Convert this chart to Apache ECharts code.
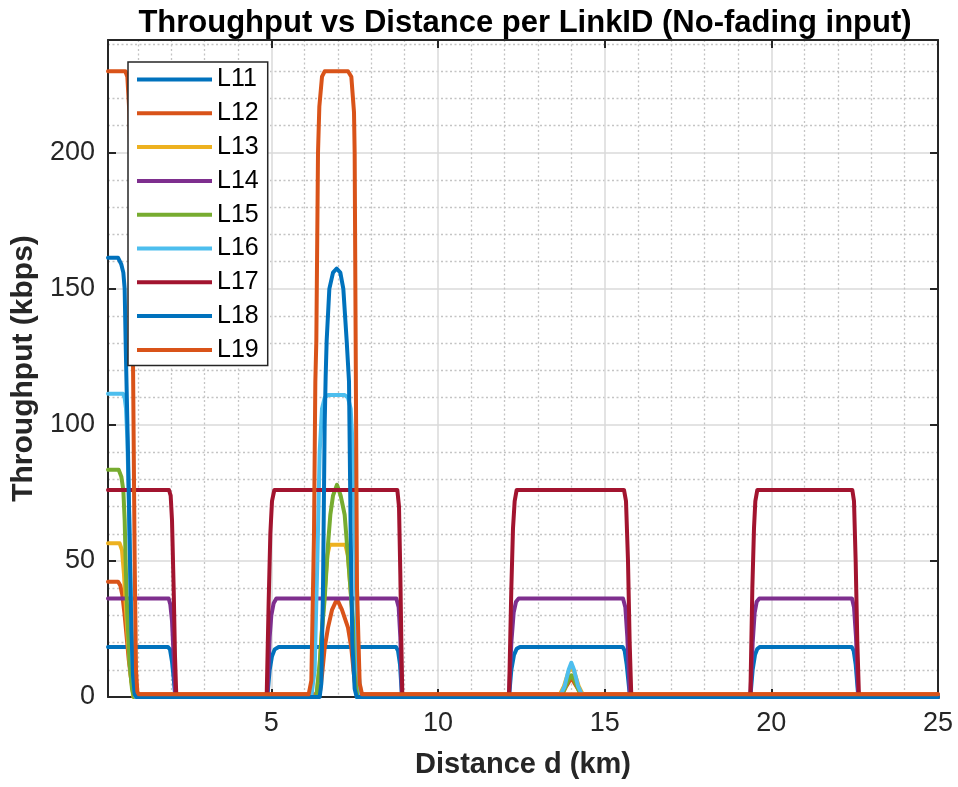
<!DOCTYPE html>
<html>
<head>
<meta charset="utf-8">
<script src="https://cdn.jsdelivr.net/npm/echarts@6/dist/echarts.min.js"></script>
<style>
  html, body { margin: 0; padding: 0; background: #fff; }
  #chart { width: 958px; height: 787px; }
</style>
</head>
<body>
<div id="chart"></div>
<script>
// tick positions
const xMajorTicks = [5, 10, 15, 20, 25];
const xMinorTicks = [1, 2, 3, 4, 6, 7, 8, 9, 11, 12, 13, 14, 16, 17, 18, 19, 21, 22, 23, 24];
const yMajorTicks = [0, 50, 100, 150, 200];
const yMinorTicks = [10, 20, 30, 40, 60, 70, 80, 90, 110, 120, 130, 140, 160, 170, 180, 190, 210, 220, 230, 240];

const linkNames = ['L11', 'L12', 'L13', 'L14', 'L15', 'L16', 'L17', 'L18', 'L19'];
const linkColors = ['#0072BD', '#D95319', '#EDB120', '#7E2F8E', '#77AC30', '#4DBEEE', '#A2142F', '#0072BD', '#D95319'];

// [distance km, throughput kbps]
const L11 = [
  [0.1, 18.4], [1.9, 18.4], [1.96, 17.5], [2.02, 13], [2.07, 7], [2.12, 0],
  [4.88, 0], [4.95, 10], [5.02, 15], [5.1, 17.5], [5.22, 18.4], [8.74, 18.4], [8.8, 17], [8.86, 12], [8.92, 0],
  [12.13, 0], [12.2, 10], [12.28, 15.5], [12.36, 17.7], [12.46, 18.4], [15.54, 18.4], [15.6, 17], [15.66, 12], [15.76, 0],
  [19.37, 0], [19.44, 10], [19.51, 15.5], [19.58, 17.7], [19.66, 18.4], [22.41, 18.4], [22.47, 17], [22.53, 12], [22.61, 0],
  [25, 0]
];
const L12 = [
  [0.1, 42.4], [0.4, 42.4], [0.47, 41], [0.53, 37.5], [0.6, 30], [0.66, 22], [0.72, 14], [0.8, 6], [0.88, 2], [0.95, 1],
  [6.45, 1], [6.52, 8], [6.6, 18], [6.7, 25.5], [6.82, 32], [6.97, 36], [7.12, 32], [7.3, 25.5], [7.4, 18], [7.48, 8], [7.55, 1],
  [13.72, 1], [13.85, 4], [14.0, 7], [14.15, 4], [14.3, 1],
  [25, 1]
];
const L13 = [
  [0.1, 56.5], [0.45, 56.5], [0.52, 54], [0.58, 45], [0.64, 32], [0.7, 20], [0.78, 8], [0.86, 0],
  [6.35, 0], [6.45, 12], [6.55, 30], [6.62, 42], [6.68, 52], [6.75, 56], [7.22, 56], [7.3, 52], [7.36, 42], [7.43, 30], [7.52, 12], [7.6, 0],
  [13.62, 0], [13.78, 4], [13.92, 9.5], [14.0, 10.5], [14.08, 9.5], [14.22, 4], [14.38, 0],
  [25, 0]
];
const L14 = [
  [0.1, 36.2], [1.92, 36.2], [1.97, 34], [2.02, 28], [2.07, 15], [2.12, 0],
  [4.88, 0], [4.95, 22], [5.0, 30], [5.07, 34.5], [5.15, 36.2], [8.75, 36.2], [8.82, 33], [8.87, 22], [8.92, 0],
  [12.13, 0], [12.2, 20], [12.27, 31], [12.34, 35], [12.42, 36.2], [15.55, 36.2], [15.62, 33], [15.68, 22], [15.76, 0],
  [19.37, 0], [19.44, 20], [19.5, 31], [19.56, 35], [19.64, 36.2], [22.42, 36.2], [22.48, 33], [22.54, 22], [22.61, 0],
  [25, 0]
];
const L15 = [
  [0.1, 83.5], [0.42, 83.5], [0.5, 81], [0.56, 76], [0.6, 65], [0.64, 45], [0.68, 30], [0.75, 12], [0.82, 3], [0.88, 0],
  [6.35, 0], [6.45, 12], [6.52, 25], [6.6, 36], [6.7, 56], [6.77, 67], [6.85, 74], [6.97, 78], [7.08, 74], [7.2, 67], [7.27, 56], [7.4, 36], [7.47, 25], [7.53, 12], [7.6, 0],
  [13.7, 0], [13.9, 6], [14.0, 8], [14.1, 6], [14.3, 0],
  [25, 0]
];
const L16 = [
  [0.1, 111.5], [0.55, 111.5], [0.6, 110], [0.64, 106], [0.68, 95], [0.73, 70], [0.78, 40], [0.83, 15], [0.88, 4], [0.93, 0],
  [6.2, 0], [6.3, 10], [6.38, 50], [6.45, 90], [6.52, 106], [6.6, 110], [6.7, 111], [7.2, 111], [7.3, 110], [7.38, 106], [7.45, 90], [7.52, 50], [7.6, 10], [7.7, 0],
  [13.65, 0], [13.8, 4], [13.92, 10], [14.0, 12.6], [14.08, 10], [14.2, 4], [14.35, 0],
  [25, 0]
];
const L17 = [
  [0.1, 76.1], [1.93, 76.1], [1.98, 74], [2.02, 65], [2.07, 40], [2.11, 15], [2.15, 0],
  [4.86, 0], [4.92, 35], [4.97, 60], [5.02, 72], [5.09, 76.1], [8.78, 76.1], [8.83, 70], [8.87, 45], [8.9, 20], [8.93, 0],
  [12.13, 0], [12.2, 40], [12.25, 62], [12.3, 72], [12.36, 76.1], [15.58, 76.1], [15.64, 72], [15.7, 50], [15.75, 20], [15.8, 0],
  [19.37, 0], [19.43, 40], [19.48, 62], [19.52, 72], [19.58, 76.1], [22.43, 76.1], [22.48, 72], [22.53, 50], [22.58, 20], [22.63, 0],
  [25, 0]
];
const L18 = [
  [0.1, 161.5], [0.4, 161.5], [0.5, 159], [0.56, 156], [0.6, 150], [0.63, 130], [0.7, 90], [0.76, 50], [0.8, 25], [0.85, 8], [0.9, 1], [0.95, 0],
  [6.45, 0], [6.5, 5], [6.55, 40], [6.6, 100], [6.63, 118], [6.66, 131], [6.74, 150], [6.85, 156], [6.96, 157.5], [7.07, 156], [7.16, 150], [7.26, 131], [7.33, 116], [7.38, 60], [7.43, 20], [7.5, 3], [7.56, 0],
  [25, 0]
];
const L19 = [
  [0.1, 230], [0.62, 230], [0.68, 228], [0.74, 215], [0.8, 180], [0.85, 124], [0.9, 50], [0.94, 10], [0.98, 2], [1.02, 1],
  [6.12, 1], [6.2, 6], [6.28, 60], [6.32, 116], [6.35, 131], [6.4, 200], [6.44, 217], [6.52, 228], [6.6, 230],
  [7.3, 230], [7.4, 228], [7.48, 215], [7.5, 200], [7.53, 130], [7.57, 40], [7.65, 5], [7.72, 1],
  [25, 1]
];
const linkData = [L11, L12, L13, L14, L15, L16, L17, L18, L19];

const FONT = 'Liberation Sans, Arial, Helvetica, sans-serif';
const AXIS_COLOR = '#262626';

const chart = echarts.init(document.getElementById('chart'), null, { renderer: 'canvas' });

const boxLine = { show: true, onZero: false, lineStyle: { color: AXIS_COLOR, width: 2 } };
const majorTick = (vals) => ({ show: true, inside: true, length: 8, customValues: vals, lineStyle: { color: AXIS_COLOR, width: 2 } });
const majorGrid = { show: true, lineStyle: { color: '#dadada', width: 1.5 } };
const minorGrid = { show: true, lineStyle: { color: '#c4c4c4', width: 1.3, type: [2, 2.5] } };

const option = {
  animation: false,
  backgroundColor: '#fff',
  title: {
    text: 'Throughput vs Distance per LinkID (No-fading input)',
    left: 520,
    top: 3,
    textAlign: 'center',
    textStyle: { fontFamily: FONT, fontSize: 31, fontWeight: 'bold', color: '#000' }
  },
  grid: { left: 108, right: 20, top: 40, bottom: 90, containLabel: false },
  legend: {
    data: linkNames,
    orient: 'vertical',
    left: 128,
    top: 62,
    icon: 'rect',
    itemWidth: 75,
    itemHeight: 4,
    itemGap: 8.8,
    padding: [5, 9, 3, 9],
    backgroundColor: '#fff',
    borderColor: AXIS_COLOR,
    borderWidth: 1.5,
    borderRadius: 0,
    z: 10,
    textStyle: { fontFamily: FONT, fontSize: 25, lineHeight: 25, color: '#000' }
  },
  xAxis: [
    {
      type: 'value', min: 0.1, max: 25, position: 'bottom',
      axisLine: boxLine,
      axisTick: majorTick(xMajorTicks),
      axisLabel: { customValues: xMajorTicks, fontFamily: FONT, fontSize: 27, color: AXIS_COLOR, margin: 13 },
      splitLine: majorGrid,
      name: 'Distance d (km)', nameLocation: 'middle', nameGap: 53,
      nameTextStyle: { fontFamily: FONT, fontSize: 29, fontWeight: 'bold', color: AXIS_COLOR }
    },
    {
      type: 'value', min: 0.1, max: 25, position: 'top',
      axisLine: boxLine,
      axisTick: majorTick(xMajorTicks),
      axisLabel: { show: false },
      splitLine: { show: false }
    },
    {
      type: 'value', min: 0.1, max: 25, position: 'bottom',
      axisLine: { show: false },
      axisTick: { show: false, customValues: xMinorTicks },
      axisLabel: { show: false },
      splitLine: minorGrid
    }
  ],
  yAxis: [
    {
      type: 'value', min: 0, max: 241.5, position: 'left',
      axisLine: boxLine,
      axisTick: majorTick(yMajorTicks),
      axisLabel: { customValues: yMajorTicks, fontFamily: FONT, fontSize: 27, color: AXIS_COLOR, margin: 13 },
      splitLine: majorGrid,
      name: 'Throughput (kbps)', nameLocation: 'middle', nameGap: 58,
      nameTextStyle: { fontFamily: FONT, fontSize: 30, fontWeight: 'bold', color: AXIS_COLOR }
    },
    {
      type: 'value', min: 0, max: 241.5, position: 'right',
      axisLine: boxLine,
      axisTick: majorTick(yMajorTicks),
      axisLabel: { show: false },
      splitLine: { show: false }
    },
    {
      type: 'value', min: 0, max: 241.5, position: 'left',
      axisLine: { show: false },
      axisTick: { show: false, customValues: yMinorTicks },
      axisLabel: { show: false },
      splitLine: minorGrid
    }
  ],
  series: linkNames.map((name, i) => ({
    name: name,
    type: 'line',
    xAxisIndex: 0,
    yAxisIndex: 0,
    data: linkData[i],
    symbol: 'none',
    showSymbol: false,
    clip: false,
    color: linkColors[i],
    lineStyle: { color: linkColors[i], width: 4, join: 'round', cap: 'round' }
  }))
};

chart.setOption(option);
</script>
</body>
</html>
